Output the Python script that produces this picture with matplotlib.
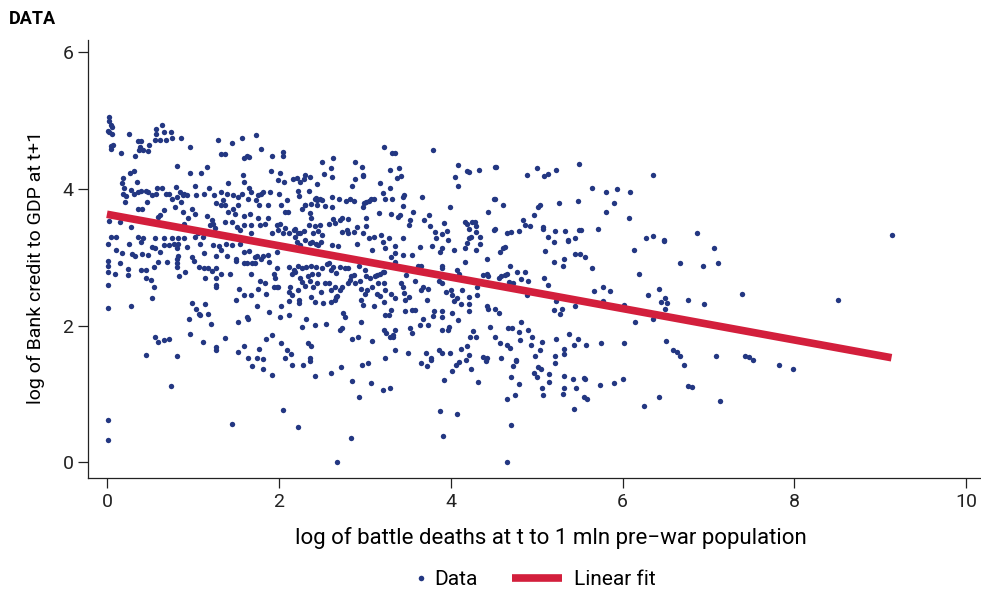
import numpy as np
import matplotlib.pyplot as plt
from matplotlib.lines import Line2D

plt.rcParams['font.family'] = ['Roboto', 'DejaVu Sans']

# (log battle deaths, log bank credit to GDP), grouped by region
pts_top_left = [
    (0.02,5.06),(0.02,4.99),(0.05,4.94),(0.06,4.91),(0.01,4.85),(0.03,4.84),(0.06,4.80),(0.05,4.63),(0.07,4.65),(0.05,4.58),
    (0.16,4.53),(0.26,4.80),(0.36,4.70),(0.40,4.70),(0.38,4.62),(0.37,4.57),(0.42,4.57),(0.49,4.65),(0.48,4.55),(0.56,4.71),
    (0.57,4.88),(0.64,4.94),(0.66,4.84),(0.57,4.80),(0.62,4.71),(0.69,4.72),(0.75,4.84),(0.76,4.74),(0.86,4.75),(0.97,4.62),
    (0.33,4.49),(1.29,4.72),(1.45,4.67),(1.57,4.74),(1.74,4.79),(1.79,4.58),(1.33,4.51),(1.38,4.51),(1.60,4.46),(1.63,4.49),
    (1.65,4.47),(1.92,4.49),(2.05,4.54),(2.05,4.49),(0.82,4.33),(0.97,4.24),(1.10,4.23),(1.16,4.32),(1.58,4.20),(1.59,4.10),
    (1.91,4.27),(2.01,4.23),(2.06,4.10),(2.16,4.14),(0.32,4.27),(0.27,4.23),(0.19,4.16),(0.17,4.09),(0.20,4.01),(0.19,3.93),
    (0.22,3.90),(0.21,3.81),(0.28,3.98),(0.35,4.10),(0.31,3.93),(0.36,3.95),(0.40,3.97),(0.46,3.97),(0.48,3.95),(0.52,3.91),
    (0.47,3.81),(0.58,4.02),(0.64,4.02),(0.57,3.92),(0.69,3.93),(0.72,3.93),(0.76,3.86),(0.80,4.03),(0.85,3.95),(0.88,3.91),
    (0.90,3.93),(0.93,3.91),(0.81,3.88),(0.86,3.81),(1.02,4.04),(1.04,3.91),(1.13,3.92),(1.19,4.02),(1.25,3.91),(1.27,3.80),
    (1.33,3.96),(1.35,3.84),(1.33,3.76),(1.37,3.77),(1.40,3.93),(1.41,4.09),(1.47,3.91),(1.53,3.88),(1.57,3.93),(1.64,3.86),
    (1.68,3.96),(1.65,4.01),(1.76,3.91),(1.79,3.93),(1.82,3.95),(1.74,3.84),(1.77,3.77),(1.90,3.95),(2.00,3.93),(1.99,4.13),
    (1.88,3.76),(2.03,3.77),(2.09,3.84),(2.11,3.67),(2.07,3.67),(1.53,3.76),(1.47,3.70),(1.41,3.67),(1.49,3.64),(1.66,3.64),
    (1.59,3.61),(0.36,3.71),(0.41,3.71),(0.62,3.62),(0.66,3.69),(0.60,3.59),(0.79,3.74),(0.88,3.67),(0.99,3.70),(1.02,3.64),
    (1.17,3.61),(1.22,3.54),(1.24,3.49),(1.20,3.47),(1.26,3.43),(1.37,3.52),(1.46,3.51),(1.51,3.45),(1.55,3.40),(1.59,3.47),
    (1.68,3.35),(1.68,3.47),(1.78,3.47),(1.76,3.57),(1.84,3.49),(1.87,3.57),(1.92,3.35),(1.98,3.47),(2.01,3.49),(2.07,3.43),
    (2.12,3.35),(2.18,3.40),(0.02,3.53),(0.15,3.51),(0.28,3.45),(0.36,3.30),(0.42,3.28),(0.05,3.30),(0.11,3.30),(0.56,3.28),
    (0.66,3.28),(0.76,3.28),(0.83,3.28),(0.90,3.28),(1.02,3.30),(1.06,3.35),(1.12,3.30),(0.90,3.49),(0.94,3.57),(1.99,3.40),
    (2.05,3.35),(2.19,3.30),
]

pts_top_mid = [
    (3.22,4.61),(3.79,4.57),(3.32,4.52),(3.35,4.53),(2.63,4.46),(2.50,4.39),(2.61,4.31),(2.89,4.39),(2.97,4.32),(2.53,4.22),
    (2.62,4.17),(2.89,4.14),(2.98,4.21),(2.98,4.19),(2.85,4.05),(3.29,4.28),(3.40,4.30),(3.42,4.19),(3.38,4.16),(3.18,4.09),
    (3.29,4.01),(3.21,3.94),(3.24,3.85),(3.32,3.85),(3.44,3.88),(3.46,3.91),(3.67,3.89),(3.99,3.74),(4.09,4.35),(4.19,4.27),
    (4.21,4.25),(4.33,4.28),(4.52,4.32),(4.05,4.18),(4.09,4.04),(2.21,4.16),(2.25,4.10),(2.30,4.21),(2.29,4.14),(2.36,4.18),
    (2.45,4.08),(2.22,3.97),(2.24,3.90),(2.35,3.97),(2.42,3.86),(2.45,3.84),(2.43,3.87),(2.50,3.84),(2.48,3.86),(2.62,3.88),
    (2.70,3.86),(2.78,3.82),(2.83,3.86),(2.87,3.82),(2.99,3.80),(3.02,3.81),(3.05,3.82),(3.07,3.85),(3.11,3.86),(2.98,3.74),
    (2.30,3.77),(2.27,3.70),(2.31,3.76),(2.37,3.78),(2.45,3.77),(2.54,3.75),(2.62,3.74),(2.36,3.65),(2.38,3.57),(2.35,3.48),
    (2.42,3.46),(2.48,3.47),(2.58,3.49),(2.63,3.56),(2.65,3.50),(2.71,3.54),(2.74,3.58),(2.81,3.56),(2.91,3.45),(3.02,3.58),
    (3.02,3.46),(3.17,3.65),(3.31,3.63),(3.39,3.59),(3.41,3.62),(3.44,3.75),(3.53,3.54),(3.56,3.67),(3.52,3.47),(3.69,3.54),
    (3.75,3.62),(3.76,3.46),(3.92,3.50),(3.82,3.37),(3.90,3.34),(3.96,3.38),(4.17,3.52),(4.19,3.49),(4.25,3.52),(4.28,3.52),
    (4.30,3.46),(4.21,3.41),(4.30,3.37),(4.24,3.30),(4.34,3.30),(4.44,3.67),(4.51,3.40),(4.51,3.86),(2.19,3.42),(2.22,3.36),
    (2.25,3.35),(2.29,3.38),(2.40,3.36),(2.46,3.38),(2.50,3.33),(2.73,3.37),(2.79,3.40),(2.81,3.36),(2.87,3.37),(2.98,3.35),
    (3.05,3.28),(3.11,3.30),(3.19,3.32),(3.28,3.28),(3.45,3.28),(3.83,3.28),(3.97,3.26),(4.21,3.28),
]

pts_top_right = [
    (4.53,4.32),(5.00,4.31),(4.89,4.20),(5.09,4.19),(5.13,4.22),(5.23,4.28),(5.49,4.37),(6.36,4.20),(5.64,4.02),(5.81,3.95),
    (5.93,4.00),(6.09,3.95),(4.52,3.86),(4.61,3.77),(5.04,3.77),(5.02,3.73),(5.26,3.79),(5.48,3.83),(5.90,3.80),(5.81,3.67),
    (6.07,3.57),(4.97,3.62),(4.84,3.55),(4.87,3.47),(4.92,3.46),(5.08,3.45),(5.07,3.42),(5.22,3.38),(5.33,3.38),(5.49,3.40),
    (5.52,3.40),(5.72,3.42),(4.65,3.36),(4.70,3.37),(4.79,3.39),(5.13,3.29),(5.37,3.25),(5.45,3.28),(6.27,3.28),(6.36,3.31),
    (6.48,3.25),(4.52,3.42),(6.87,3.35),(9.14,3.32),
]

pts_mid_left = [
    (0.01,3.20),(0.26,3.19),(0.40,3.23),(0.52,3.15),(0.56,3.14),(0.67,3.18),(0.72,3.18),(0.78,3.19),(0.81,3.14),(0.83,3.20),
    (0.93,3.15),(1.08,3.19),(1.24,3.18),(1.30,3.16),(1.33,3.11),(1.39,3.20),(1.45,3.18),(1.55,3.19),(0.11,3.10),(0.17,3.06),
    (0.29,3.05),(0.33,3.02),(0.41,3.05),(0.48,3.03),(0.62,3.08),(0.83,3.02),(0.82,2.97),(0.99,3.01),(1.01,2.95),(1.13,3.06),
    (1.27,3.02),(1.40,3.02),(1.50,2.98),(1.60,3.08),(1.65,3.09),(1.72,3.00),(1.75,3.02),(1.82,3.02),(1.88,3.03),(1.98,3.08),
    (0.01,2.94),(0.01,2.88),(0.15,2.91),(0.25,2.83),(0.40,2.82),(0.46,2.82),(0.55,2.86),(0.59,2.93),(0.70,2.93),(0.81,2.92),
    (0.81,2.86),(0.91,2.79),(1.07,2.86),(1.13,2.84),(1.18,2.84),(1.22,2.80),(1.27,2.84),(1.33,2.76),(1.43,2.76),(1.50,2.95),
    (1.59,2.92),(1.63,2.92),(1.69,2.92),(1.72,2.92),(1.79,2.98),(1.89,2.93),(1.98,2.84),(2.12,2.86),(2.18,2.82),(0.01,2.78),
    (0.10,2.75),(0.24,2.74),(0.46,2.70),(0.51,2.67),(0.84,2.72),(1.14,2.70),(1.27,2.69),(1.68,2.75),(1.78,2.66),(1.84,2.62),
    (1.94,2.75),(1.96,2.70),(1.98,2.57),(1.95,2.57),(1.99,2.57),(2.13,2.57),(2.15,2.76),(2.19,2.79),(0.01,2.59),(0.55,2.56),
    (1.27,2.59),(1.27,2.56),(1.54,2.53),(1.60,2.45),(1.68,2.45),(1.76,2.54),(1.85,2.47),(2.12,2.49),(2.15,2.45),(1.50,2.38),
    (0.53,2.41),(0.99,2.33),(1.14,2.32),(1.04,2.24),(1.07,2.17),(1.08,2.15),(1.18,2.17),(0.95,2.10),(1.21,2.02),(1.63,2.13),
    (1.64,2.09),(1.52,2.05),(1.75,2.28),(1.89,2.20),(2.03,2.28),(2.12,2.36),(2.01,2.12),(2.12,2.15),(0.01,2.26),(0.28,2.28),
    (0.97,1.88),(0.56,1.84),(0.60,1.76),(0.66,1.79),(0.72,1.81),(1.12,1.76),(1.37,1.82),(1.85,1.81),(1.92,1.87),(1.27,1.69),
    (1.27,1.65),(1.59,1.70),(1.52,1.62),(1.77,1.66),(2.03,1.74),(2.10,1.64),(0.45,1.57),(0.82,1.55),(1.64,1.52),(1.75,1.52),
    (1.82,1.51),(2.07,1.53),(2.14,1.59),
]

pts_mid_centre = [
    (2.21,3.23),(2.25,3.18),(2.30,3.25),(2.36,3.21),(2.39,3.23),(2.43,3.20),(2.46,3.18),(2.49,3.23),(2.62,3.18),(2.69,3.16),
    (2.91,3.19),(3.09,3.10),(3.21,3.23),(3.24,3.14),(3.35,3.16),(3.45,3.03),(3.55,3.03),(3.64,3.15),(3.78,3.16),(3.88,3.08),
    (3.90,3.13),(4.04,3.10),(4.17,3.13),(4.19,3.21),(4.30,3.10),(4.34,3.19),(4.42,2.97),(4.17,2.93),(4.07,2.81),(4.10,2.76),
    (3.90,2.87),(3.90,2.84),(3.65,2.87),(3.62,2.87),(3.48,2.74),(3.35,2.93),(3.31,3.01),(3.35,3.06),(2.22,2.88),(2.27,2.84),
    (2.32,2.86),(2.37,2.88),(2.39,2.76),(2.43,2.86),(2.46,2.76),(2.50,2.84),(2.56,2.90),(2.58,2.91),(2.61,2.81),(2.63,2.86),
    (2.67,2.77),(2.71,2.86),(2.77,2.85),(2.80,2.84),(2.84,2.72),(2.87,2.74),(2.93,2.88),(2.95,2.65),(3.00,2.81),(3.02,2.72),
    (3.06,2.69),(3.12,2.72),(3.14,2.74),(3.18,2.76),(3.21,2.79),(3.22,2.79),(3.15,2.63),(3.22,2.63),(2.25,2.69),(2.27,2.64),
    (2.30,2.58),(2.34,2.72),(2.36,2.66),(2.40,2.57),(2.45,2.63),(2.49,2.49),(2.54,2.63),(2.58,2.62),(2.61,2.52),(2.65,2.57),
    (2.67,2.42),(2.71,2.52),(2.73,2.57),(2.81,2.62),(2.83,2.67),(2.89,2.63),(2.96,2.54),(3.00,2.47),(3.03,2.52),(3.08,2.57),
    (3.14,2.47),(3.18,2.43),(3.24,2.52),(3.31,2.46),(3.35,2.40),(3.42,2.62),(3.44,2.57),(3.46,2.48),(3.51,2.42),(3.47,2.38),
    (3.58,2.65),(3.65,2.52),(3.68,2.56),(3.74,2.53),(3.72,2.38),(3.86,2.65),(3.90,2.62),(3.95,2.49),(4.00,2.52),(4.02,2.45),
    (4.04,2.36),(4.07,2.40),(4.12,2.31),(4.13,2.52),(4.21,2.42),(4.31,2.56),(4.31,2.45),(4.38,2.74),(4.42,2.76),(4.44,2.72),
    (2.22,2.52),(2.23,2.38),(2.24,2.33),(2.37,2.42),(2.42,2.35),(2.52,2.33),(2.61,2.35),(2.65,2.38),(2.68,2.43),(2.96,2.37),
    (2.98,2.30),(3.11,2.28),(3.22,2.35),(3.24,2.15),(3.31,2.23),(3.28,2.15),(3.47,2.22),(3.55,2.23),(3.59,2.23),(3.68,2.09),
    (3.79,2.14),(3.81,2.22),(3.90,2.22),(3.90,2.12),(4.02,2.19),(4.21,2.22),(4.21,2.31),(4.43,2.25),(4.42,2.28),(4.52,2.25),
    (2.32,2.10),(2.27,1.98),(2.42,2.01),(2.55,2.03),(2.73,1.97),(2.71,1.94),(2.75,2.19),(2.77,2.13),(2.96,2.05),(3.22,1.94),
    (3.25,1.89),(3.29,1.84),(3.33,1.86),(3.33,1.84),(3.35,1.93),(3.53,1.97),(3.55,1.89),(3.64,2.01),(3.74,2.01),(3.90,1.93),
    (3.97,1.94),(3.98,1.98),(4.08,2.08),(4.23,1.84),(4.26,1.92),(4.30,1.84),(4.46,1.98),(4.52,1.83),(2.34,1.75),(2.38,1.70),
    (2.85,1.80),(2.92,1.84),(3.09,1.78),(3.35,1.65),(3.50,1.60),(3.71,1.60),(3.77,1.53),(3.86,1.65),(3.90,1.60),(3.99,1.60),
    (4.12,1.66),(4.21,1.57),(4.19,1.70),(4.38,1.54),(4.42,1.53),(3.24,1.52),(2.36,1.52),
]

pts_mid_right = [
    (4.58,3.08),(4.61,3.13),(4.63,3.15),(5.20,3.22),(5.37,3.24),(6.48,3.24),(6.13,3.11),(5.10,3.09),(5.45,3.05),(5.51,3.05),
    (5.56,3.01),(5.32,2.98),(5.20,2.93),(5.31,2.88),(5.64,2.84),(6.67,2.92),(6.19,2.75),(4.69,2.88),(4.77,2.79),(4.87,2.78),
    (4.82,2.68),(4.90,2.65),(4.56,2.70),(4.59,2.72),(4.63,2.74),(4.66,2.75),(4.68,2.64),(4.73,2.62),(5.09,2.70),(5.13,2.60),
    (4.89,2.45),(5.23,2.36),(5.45,2.28),(5.20,2.23),(5.29,2.24),(5.27,2.17),(5.67,2.51),(5.77,2.56),(5.86,2.50),(5.77,2.36),
    (6.02,2.30),(6.15,2.05),(6.30,2.45),(6.43,2.53),(6.45,2.35),(6.50,2.40),(6.52,2.33),(6.50,2.25),(6.36,2.09),(6.76,2.37),
    (4.56,2.19),(4.82,2.05),(4.71,1.97),(4.67,1.96),(4.80,1.91),(4.90,1.93),(4.95,1.84),(4.81,1.79),(4.58,1.74),(4.66,1.72),
    (4.69,1.67),(4.94,1.71),(5.06,1.76),(5.04,1.65),(5.23,1.80),(5.38,1.88),(5.48,1.80),(5.43,1.71),(5.32,1.66),(5.58,1.71),
    (5.75,1.75),(6.02,1.75),(6.51,1.78),(6.59,1.64),(6.63,1.62),(6.67,1.55),(4.98,1.55),(5.21,1.55),(5.32,1.58),(4.59,1.53),
    (4.76,1.49),(7.07,3.13),(6.94,2.87),(7.11,2.92),(7.39,2.47),(6.95,2.32),(8.51,2.37),(7.09,1.56),(7.42,1.55),(7.47,1.54),
    (7.52,1.49),
]

pts_low = [
    (0.75,1.11),(0.01,0.62),(0.01,0.33),(1.46,0.56),(1.69,1.41),(1.82,1.37),(1.92,1.27),(2.05,0.77),(2.15,1.42),
    (2.28,1.42),(2.36,1.48),(2.42,1.26),(2.61,1.30),(2.72,1.40),(2.85,1.19),(2.97,1.43),(3.04,1.45),(3.07,1.16),(2.93,0.96),
    (3.21,1.06),(3.29,1.09),(2.22,0.52),(2.84,0.36),(2.68,0.00),(3.66,1.45),(3.73,1.41),(3.77,1.49),(3.92,1.21),(4.01,1.34),
    (4.06,1.42),(4.10,1.47),(4.18,1.49),(4.24,1.36),(4.32,1.18),(4.41,1.48),(3.88,0.75),(4.07,0.71),(3.91,0.39),
    (4.76,1.48),(4.73,1.41),(4.70,1.25),(4.80,1.14),(4.75,0.99),(4.66,0.92),(4.70,0.54),(4.66,0.00),(5.02,1.39),(5.05,1.37),
    (4.97,1.30),(5.01,1.25),(5.15,1.29),(5.14,1.18),(5.06,1.08),(5.08,0.99),(5.22,1.46),(5.32,1.26),(5.42,1.22),(5.32,1.08),
    (5.31,1.00),(5.46,1.08),(5.55,1.24),(5.56,1.22),(5.55,0.96),(5.59,0.93),(5.43,0.78),(5.74,1.13),(5.90,1.16),(6.00,1.22),
    (6.25,0.82),(6.43,0.96),(6.71,1.42),(6.76,1.11),(6.81,1.10),(7.82,1.43),(7.98,1.37),(7.14,0.90),
]

# linear fit endpoints
fit_x = [0.0, 9.13]
fit_y = [3.63, 1.53]

x_ticks = [0, 2, 4, 6, 8, 10]
y_ticks = [0, 2, 4, 6]

dot_color = '#233782'
fit_color = '#d31f3c'

all_pts = np.array(pts_top_left + pts_top_mid + pts_top_right + pts_mid_left +
                   pts_mid_centre + pts_mid_right + pts_low)

fig = plt.figure(figsize=(9.81, 5.89), dpi=100)
ax = fig.add_axes([0.0897, 0.1885, 0.9093, 0.7435])

ax.scatter(all_pts[:, 0], all_pts[:, 1], s=15, color=dot_color, linewidths=0, zorder=2)
ax.plot(fit_x, fit_y, color=fit_color, lw=5.5, solid_capstyle='butt', zorder=3)

ax.set_xlim(-0.22, 10.16)
ax.set_ylim(-0.23, 6.18)
ax.set_xticks(x_ticks)
ax.set_yticks(y_ticks)
ax.spines['top'].set_visible(False)
ax.spines['right'].set_visible(False)
for s in ['left', 'bottom']:
    ax.spines[s].set_color('#222222')
    ax.spines[s].set_linewidth(0.9)
ax.tick_params(direction='out', length=7, width=0.9, labelsize=14, colors='#222222')

ax.set_xlabel('log of battle deaths at t to 1 mln pre\u2212war population', fontsize=16)
ax.xaxis.set_label_coords(0.519, -0.112)
ax.set_ylabel('log of Bank credit to GDP at t+1', fontsize=14)
ax.yaxis.set_label_coords(-0.048, 0.48)

fig.text(0.009, 0.968, 'DATA', fontsize=13, fontweight='bold', ha='left', va='center')

# legend: two pieces so the dot sits close to its label
h_data = Line2D([], [], ls='none', marker='o', ms=4, mew=0, color=dot_color)
h_fit = Line2D([], [], color=fit_color, lw=5.5, solid_capstyle='butt')
leg1 = fig.legend([h_data], ['Data'], loc='center left', bbox_to_anchor=(0.423, 0.0153),
                  frameon=False, fontsize=15, handlelength=0.6, handletextpad=0.33,
                  borderpad=0, borderaxespad=0)
leg2 = fig.legend([h_fit], ['Linear fit'], loc='center left', bbox_to_anchor=(0.522, 0.0153),
                  frameon=False, fontsize=15, handlelength=2.4, handletextpad=0.58,
                  borderpad=0, borderaxespad=0)

fig.savefig('out.png', dpi=100)
